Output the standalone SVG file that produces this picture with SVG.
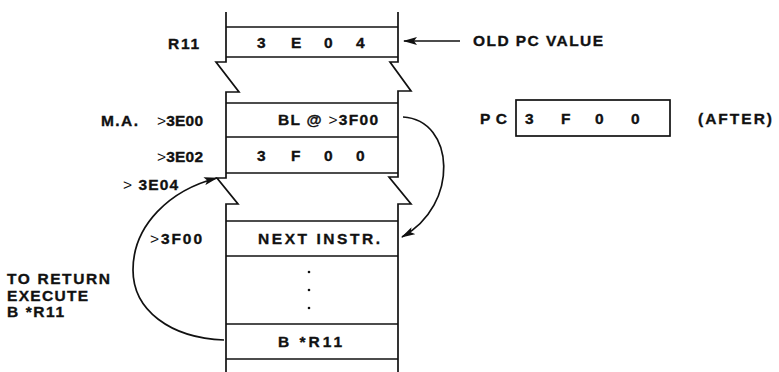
<svg xmlns="http://www.w3.org/2000/svg" width="779" height="372" viewBox="0 0 779 372">
<defs>
<style>
text{font-family:"Liberation Sans",Arial,sans-serif;font-weight:bold;font-size:15.5px;fill:#111;stroke:#111;stroke-width:0.35}
.ln{fill:none;stroke:#111;stroke-width:1.7}
.th{font-weight:normal;stroke-width:0}
</style>
<marker id="ah" viewBox="0 0 14 8" refX="13" refY="4" markerWidth="14" markerHeight="8" markerUnits="userSpaceOnUse" orient="auto">
<path d="M0,0 L14,4 L0,8 L3,4 Z" fill="#111"/>
</marker>
</defs>
<rect width="779" height="372" fill="#fff"/>

<g id="memory-column">
<path class="ln" d="M226,12 V62 H216 L239,92 H226 V178 H217 L238,204 H226 V372"/>
<path class="ln" d="M398,12 V62 H390 L411,91 H398 V177 H389 L411,204 H398 V372"/>
</g>

<g id="r11-word">
<line class="ln" x1="226" y1="27" x2="398" y2="27"/>
<line class="ln" x1="226" y1="57" x2="398" y2="57"/>
<text x="257 266 291 300 324 333 356" y="48">3 E 0 4</text>
<text x="168" y="49" textLength="31" lengthAdjust="spacing">R11</text>
</g>

<g id="word-3E00">
<line class="ln" x1="226" y1="103" x2="398" y2="103"/>
<line class="ln" x1="226" y1="137" x2="398" y2="137"/>
<text x="278" y="125" textLength="100" lengthAdjust="spacing">BL @ <tspan class="th">&gt;</tspan>3F00</text>
<text x="101" y="126" textLength="37" lengthAdjust="spacing">M.A.</text>
<text x="157" y="126" textLength="46" lengthAdjust="spacing"><tspan class="th">&gt;</tspan>3E00</text>
</g>

<g id="word-3E02">
<line class="ln" x1="226" y1="173" x2="398" y2="173"/>
<text x="257 266 291 300 324 333 356" y="161">3 F 0 0</text>
<text x="157" y="162" textLength="46" lengthAdjust="spacing"><tspan class="th">&gt;</tspan>3E02</text>
</g>

<g id="label-3E04">
<text x="123" y="190" textLength="55" lengthAdjust="spacing"><tspan class="th">&gt;</tspan> 3E04</text>
</g>

<g id="word-3F00">
<line class="ln" x1="226" y1="221" x2="398" y2="221"/>
<line class="ln" x1="226" y1="256" x2="398" y2="256"/>
<text x="258" y="244" textLength="122" lengthAdjust="spacing">NEXT INSTR.</text>
<text x="150" y="244" textLength="52" lengthAdjust="spacing"><tspan class="th">&gt;</tspan>3F00</text>
</g>

<g id="ellipsis-words">
<line class="ln" x1="226" y1="324" x2="398" y2="324"/>
<circle cx="309" cy="272" r="1.3" fill="#111"/>
<circle cx="309" cy="290" r="1.3" fill="#111"/>
<circle cx="309" cy="308" r="1.3" fill="#111"/>
</g>

<g id="word-return">
<line class="ln" x1="226" y1="359" x2="398" y2="359"/>
<text x="278" y="347" textLength="64" lengthAdjust="spacing">B *R11</text>
</g>

<g id="note-return">
<text x="7" y="284" textLength="103" lengthAdjust="spacing">TO RETURN</text>
<text x="7" y="301" textLength="81" lengthAdjust="spacing">EXECUTE</text>
<text x="7" y="317" textLength="57" lengthAdjust="spacing">B *R11</text>
</g>

<g id="old-pc-label">
<text x="473" y="46" textLength="130" lengthAdjust="spacing">OLD PC VALUE</text>
</g>

<g id="pc-register">
<rect class="ln" x="516" y="100" width="154" height="36"/>
<text x="480" y="124" textLength="27" lengthAdjust="spacing">PC</text>
<text x="525 534 561 570 595 604 631" y="124">3 F 0 0</text>
<text x="698" y="124" textLength="74" lengthAdjust="spacing">(AFTER)</text>
</g>

<g id="connectors">
<line class="ln" x1="460" y1="41" x2="404" y2="41" marker-end="url(#ah)"/>
<path class="ln" d="M403,117 C455,120 460,205 402,237" marker-end="url(#ah)"/>
<path class="ln" d="M224,340 C170,338 133,310 133,270 C133,225 170,190 217,178" marker-end="url(#ah)"/>
</g>
</svg>
